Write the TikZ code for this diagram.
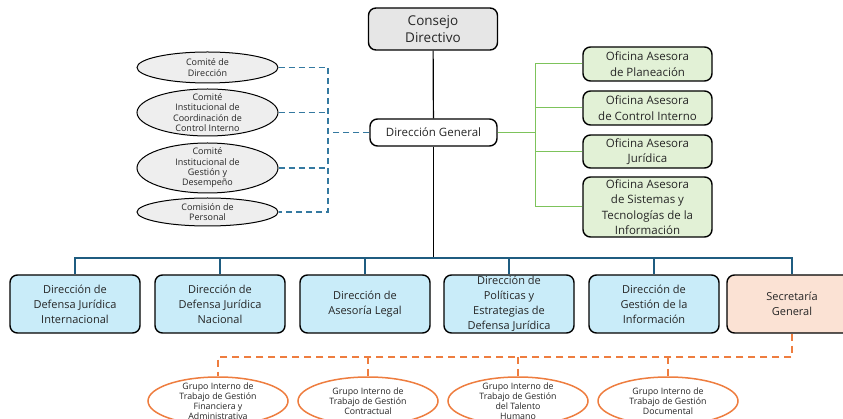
\documentclass[tikz,border=0pt]{standalone}
\usepackage{fontspec}
\setmainfont{Open Sans}
\usetikzlibrary{shapes.geometric}

\definecolor{boardfill}{HTML}{E6E6E6}
\definecolor{advfill}{HTML}{E2F1D6}
\definecolor{advline}{HTML}{7DC35B}
\definecolor{dirfill}{HTML}{C9ECF9}
\definecolor{busline}{HTML}{1F5C80}
\definecolor{secfill}{HTML}{FBE2D4}
\definecolor{grpline}{HTML}{EE7D3F}
\definecolor{cmtline}{HTML}{3479A0}
\definecolor{cmtfill}{HTML}{EEEEEE}
\definecolor{ink}{HTML}{262626}

\tikzset{
  boxbase/.style={draw=black, line width=1.4pt, rounded corners=7.5pt, align=center, inner sep=0pt, text=ink},
  board/.style={boxbase, fill=boardfill, minimum width=129pt, minimum height=42pt, font=\fontsize{13.5}{17}\selectfont},
  general/.style={boxbase, fill=white, minimum width=127pt, minimum height=27pt, font=\fontsize{11.5}{13}\selectfont},
  advisory/.style={boxbase, fill=advfill, minimum width=129pt, font=\fontsize{11.5}{15.5}\selectfont},
  directorate/.style={boxbase, fill=dirfill, minimum width=130pt, minimum height=58pt, font=\fontsize{11}{15}\selectfont},
  secretariat/.style={directorate, fill=secfill},
  committee/.style={ellipse, draw=black, line width=1pt, fill=cmtfill, minimum width=141pt, inner sep=0pt},
  cmttext/.style={align=center, text=ink, font=\fontsize{9}{10.4}\selectfont},
  group/.style={ellipse, draw=grpline, line width=1.5pt, fill=white, minimum width=140pt, minimum height=48pt, inner sep=0pt},
  grptext/.style={align=center, text=ink, font=\fontsize{8.8}{10}\selectfont},
  solidline/.style={draw=black, line width=1.2pt},
  advlink/.style={draw=advline, line width=1pt},
  buslink/.style={draw=busline, line width=1.5pt},
  cmtlink/.style={draw=cmtline, line width=1.2pt, dash pattern=on 6pt off 4pt},
  grplink/.style={draw=grpline, line width=1.5pt, dash pattern=on 7pt off 5pt},
}

\begin{document}
\begin{tikzpicture}[x=1pt, y=-1pt]
\useasboundingbox (0,0) rectangle (843,419);
\clip (0,0) rectangle (843,419);

% top of the hierarchy
\node[board] (cd) at (433,29) {Consejo\\Directivo};
\node[general] (dg) at (433.5,132.5) {Dirección General};

% advisory offices
\node[advisory, minimum height=34pt] (ofp) at (647.5,64) {Oficina Asesora\\de Planeación};
\node[advisory, minimum height=34pt] (ofc) at (647.5,108) {Oficina Asesora\\de Control Interno};
\node[advisory, minimum height=33pt] (ofj) at (647.5,151.5) {Oficina Asesora\\Jurídica};
\node[advisory, minimum height=60pt] (ofs) at (647.5,207) {Oficina Asesora\\de Sistemas y\\Tecnologías de la\\Información};

% committees
\node[committee, minimum height=31pt] (c1) at (207.5,67.5) {};
\node[cmttext] at (c1) {Comité de\\Dirección};
\node[committee, minimum height=47pt] (c2) at (207.5,112.5) {};
\node[cmttext] at (c2) {Comité\\Institucional de\\Coordinación de\\Control Interno};
\node[committee, minimum height=50pt] (c3) at (207.5,168) {};
\node[cmttext] at (c3) {Comité\\Institucional de\\Gestión y\\Desempeño};
\node[committee, minimum height=28pt] (c4) at (207.5,212) {};
\node[cmttext] at (c4) {Comisión de\\Personal};

% directorates
\node[directorate] (d1) at (75,304) {Dirección de\\Defensa Jurídica\\Internacional};
\node[directorate] (d2) at (220,304) {Dirección de\\Defensa Jurídica\\Nacional};
\node[directorate] (d3) at (365,304) {Dirección de\\Asesoría Legal};
\node[directorate] (d4) at (509,304) {Dirección de\\Políticas y\\Estrategias de\\Defensa Jurídica};
\node[directorate] (d5) at (654,304) {Dirección de\\Gestión de la\\Información};
\node[secretariat] (sg) at (792,304) {Secretaría\\General};

% internal working groups
\node[group] (g1) at (218,401) {};
\node[grptext] at (g1) {Grupo Interno de\\Trabajo de Gestión\\Financiera y\\Administrativa};
\node[group] (g2) at (368,401) {};
\node[grptext] at (g2) {Grupo Interno de\\Trabajo de Gestión\\Contractual};
\node[group] (g3) at (518,401) {};
\node[grptext] at (g3) {Grupo Interno de\\Trabajo de Gestión\\del Talento\\Humano};
\node[group] (g4) at (668,401) {};
\node[grptext] at (g4) {Grupo Interno de\\Trabajo de Gestión\\Documental};

% junction points
\coordinate (bus) at (433.5,258);
\coordinate (advtrunk) at (535,132.5);
\coordinate (cmttrunk) at (328,132.5);
\coordinate (grptrunk) at (792,357);

% main line of authority
\draw[solidline] (cd) -- (dg);
\draw[solidline] (dg) -- (bus);

% directorates bus
\draw[buslink] (d1.north) -- (d1.north |- bus) -- (sg.north |- bus) -- (sg.north);
\foreach \n in {d2,d3,d4,d5} \draw[buslink] (\n.north) -- (\n.north |- bus);

% advisory offices
\draw[advlink] (dg.east) -- (advtrunk);
\draw[advlink] (ofp.west) -- (ofp.west -| advtrunk) -- (ofs.west -| advtrunk) -- (ofs.west);
\foreach \n in {ofc,ofj} \draw[advlink] (\n.west) -- (\n.west -| advtrunk);

% committees
\draw[cmtlink] (dg.west) -- (cmttrunk);
\draw[cmtlink] (c1.east) -- (c1.east -| cmttrunk) -- (c4.east -| cmttrunk) -- (c4.east);
\foreach \n in {c2,c3} \draw[cmtlink] (\n.east) -- (\n.east -| cmttrunk);

% working groups under the secretariat
\draw[grplink] (sg.south) -- (grptrunk) -- (g1.north |- grptrunk) -- (g1.north);
\foreach \n in {g2,g3,g4} \draw[grplink] (\n.north |- grptrunk) -- (\n.north);
\end{tikzpicture}
\end{document}
